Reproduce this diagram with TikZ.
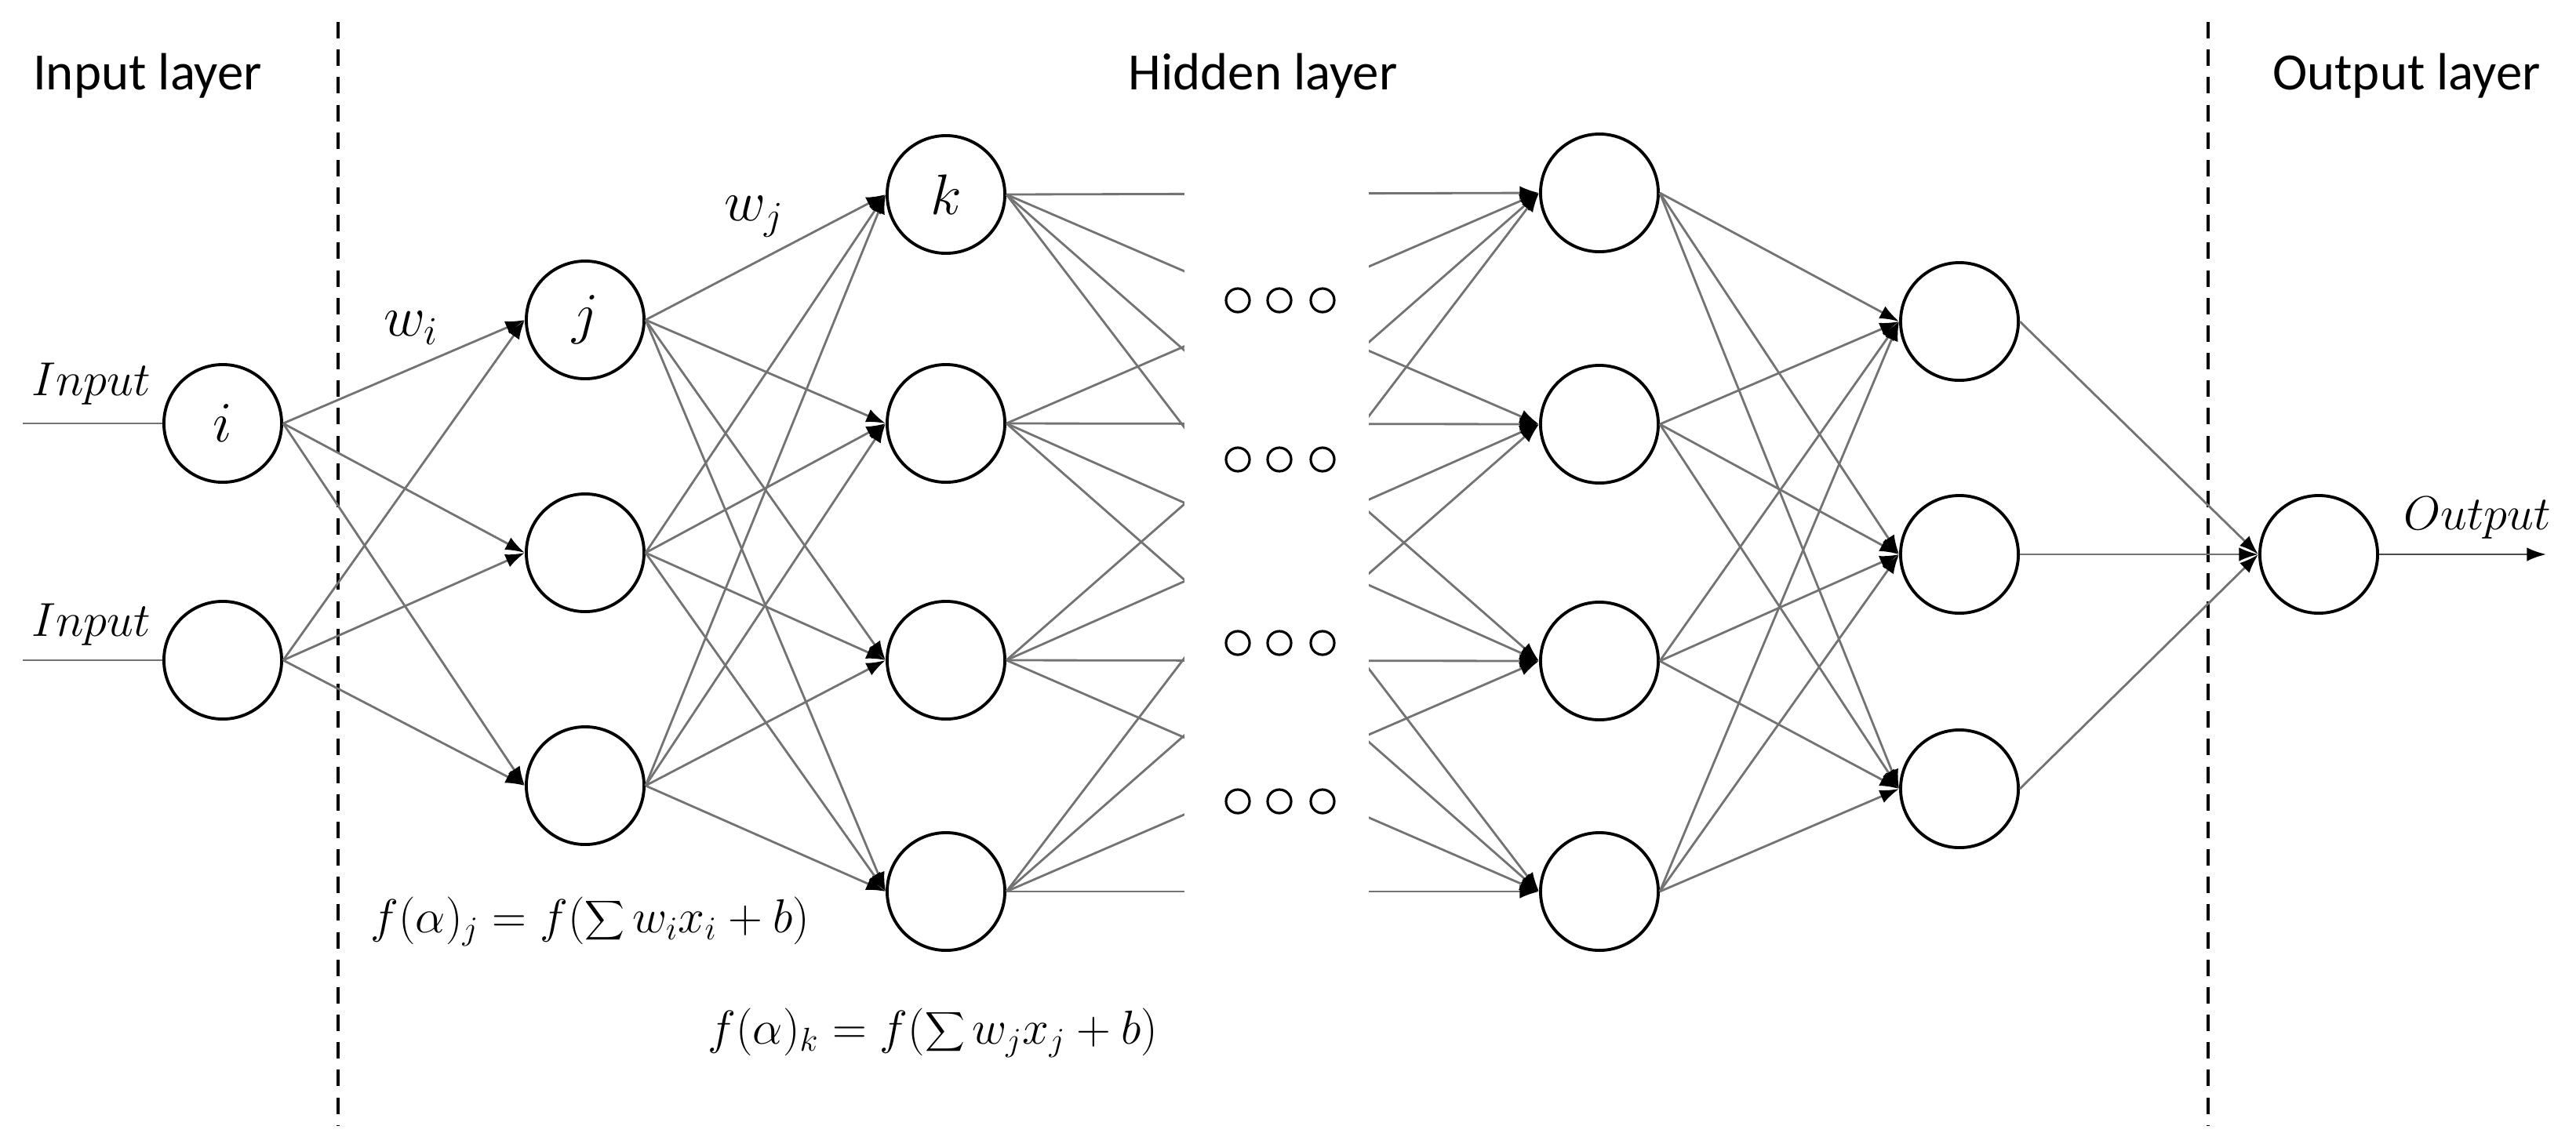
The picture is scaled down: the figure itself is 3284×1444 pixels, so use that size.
\documentclass[tikz,border=0pt]{standalone}
\usepackage{fontspec}
\setmainfont{Carlito}
\usetikzlibrary{arrows.meta}
\begin{document}
\begin{tikzpicture}[x=0.01cm,y=-0.01cm,
  neuron/.style={circle,draw=black,line width=1.1pt,minimum size=1.5cm,inner sep=0pt,fill=white,font=\huge},
  conn/.style={draw=black!55,line width=0.8pt,-{Latex[length=7pt,width=5pt,black]}},
  plain/.style={draw=black!55,line width=0.8pt},
  sep/.style={draw=black,line width=1pt,dash pattern=on 6pt off 4pt},
  title/.style={font=\fontsize{19}{22}\selectfont},
  lab/.style={font=\fontsize{17}{20}\selectfont},
  formula/.style={anchor=west,font=\fontsize{18}{22}\selectfont}]
\useasboundingbox (0,0) rectangle (3284,1444);
% dashed separators
\coordinate (d1t) at (431,28); \coordinate (d1b) at (431,1436);
\coordinate (d2t) at (2815,28); \coordinate (d2b) at (2815,1436);
\draw[sep] (d1t) -- (d1b);
\draw[sep] (d2t) -- (d2b);
% titles
\node[title] (t1) at (188,97) {Input layer};
\node[title] (t2) at (1610,97) {Hidden layer};
\node[title] (t3) at (3068,97) {Output layer};
% neurons
\node[neuron] (a1) at (284,540) {$i$};
\node[neuron] (a2) at (284,842) {};
\node[neuron] (b1) at (746,408) {$j$};
\node[neuron] (b2) at (746,705) {};
\node[neuron] (b3) at (746,1002) {};
\node[neuron] (c1) at (1206,248) {$k$};
\node[neuron] (c2) at (1206,540) {};
\node[neuron] (c3) at (1206,842) {};
\node[neuron] (c4) at (1206,1137) {};
\node[neuron] (d1) at (2039,246) {};
\node[neuron] (d2) at (2039,541) {};
\node[neuron] (d3) at (2039,843) {};
\node[neuron] (d4) at (2039,1137) {};
\node[neuron] (e1) at (2498,410) {};
\node[neuron] (e2) at (2498,707) {};
\node[neuron] (e3) at (2498,1006) {};
\node[neuron] (o) at (2956,707) {};
% connections
\foreach \s in {a1,a2}{\foreach \t in {b1,b2,b3}{\draw[conn] (\s.east) -- (\t.west);}}
\foreach \s in {b1,b2,b3}{\foreach \t in {c1,c2,c3,c4}{\draw[conn] (\s.east) -- (\t.west);}}
\foreach \s in {c1,c2,c3,c4}{\foreach \t in {d1,d2,d3,d4}{\draw[conn] (\s.east) -- (\t.west);}}
\foreach \s in {d1,d2,d3,d4}{\foreach \t in {e1,e2,e3}{\draw[conn] (\s.east) -- (\t.west);}}
\foreach \s in {e1,e2,e3}{\draw[conn] (\s.east) -- (o.west);}
% gap in hidden layer
\fill[white] (1510,200) rectangle (1745,1190);
\foreach \y [count=\n] in {383,586,820,1022}{
  \foreach \x [count=\m] in {1578,1631,1686}{
    \node[circle,draw=black,line width=0.9pt,minimum size=0.3cm,inner sep=0pt] (dot\n\m) at (\x,\y) {};
  }
}
% inputs and output
\coordinate (in1) at (29,540);
\coordinate (in2) at (29,842);
\coordinate (out) at (3246,707);
\draw[plain] (in1) -- (a1.west);
\draw[plain] (in2) -- (a2.west);
\draw[draw=black!70,line width=0.8pt,-{Latex[length=7pt,width=5pt,black]}] (o.east) -- (out);
\node[lab] (il1) at (116,490) {$Input$};
\node[lab] (il2) at (116,797) {$Input$};
\node[lab] (ol) at (3158,661) {$Output$};
% weights
\node[font=\huge] (wi) at (524,418) {$w_i$};
\node[font=\huge] (wj) at (962,276) {$w_j$};
% formulas
\node[formula] (f1) at (460,1175) {$\displaystyle f(\alpha)_j = f(\sum w_i x_i + b)$};
\node[formula] (f2) at (890,1317) {$\displaystyle f(\alpha)_k = f(\sum w_j x_j + b)$};
\end{tikzpicture}
\end{document}
